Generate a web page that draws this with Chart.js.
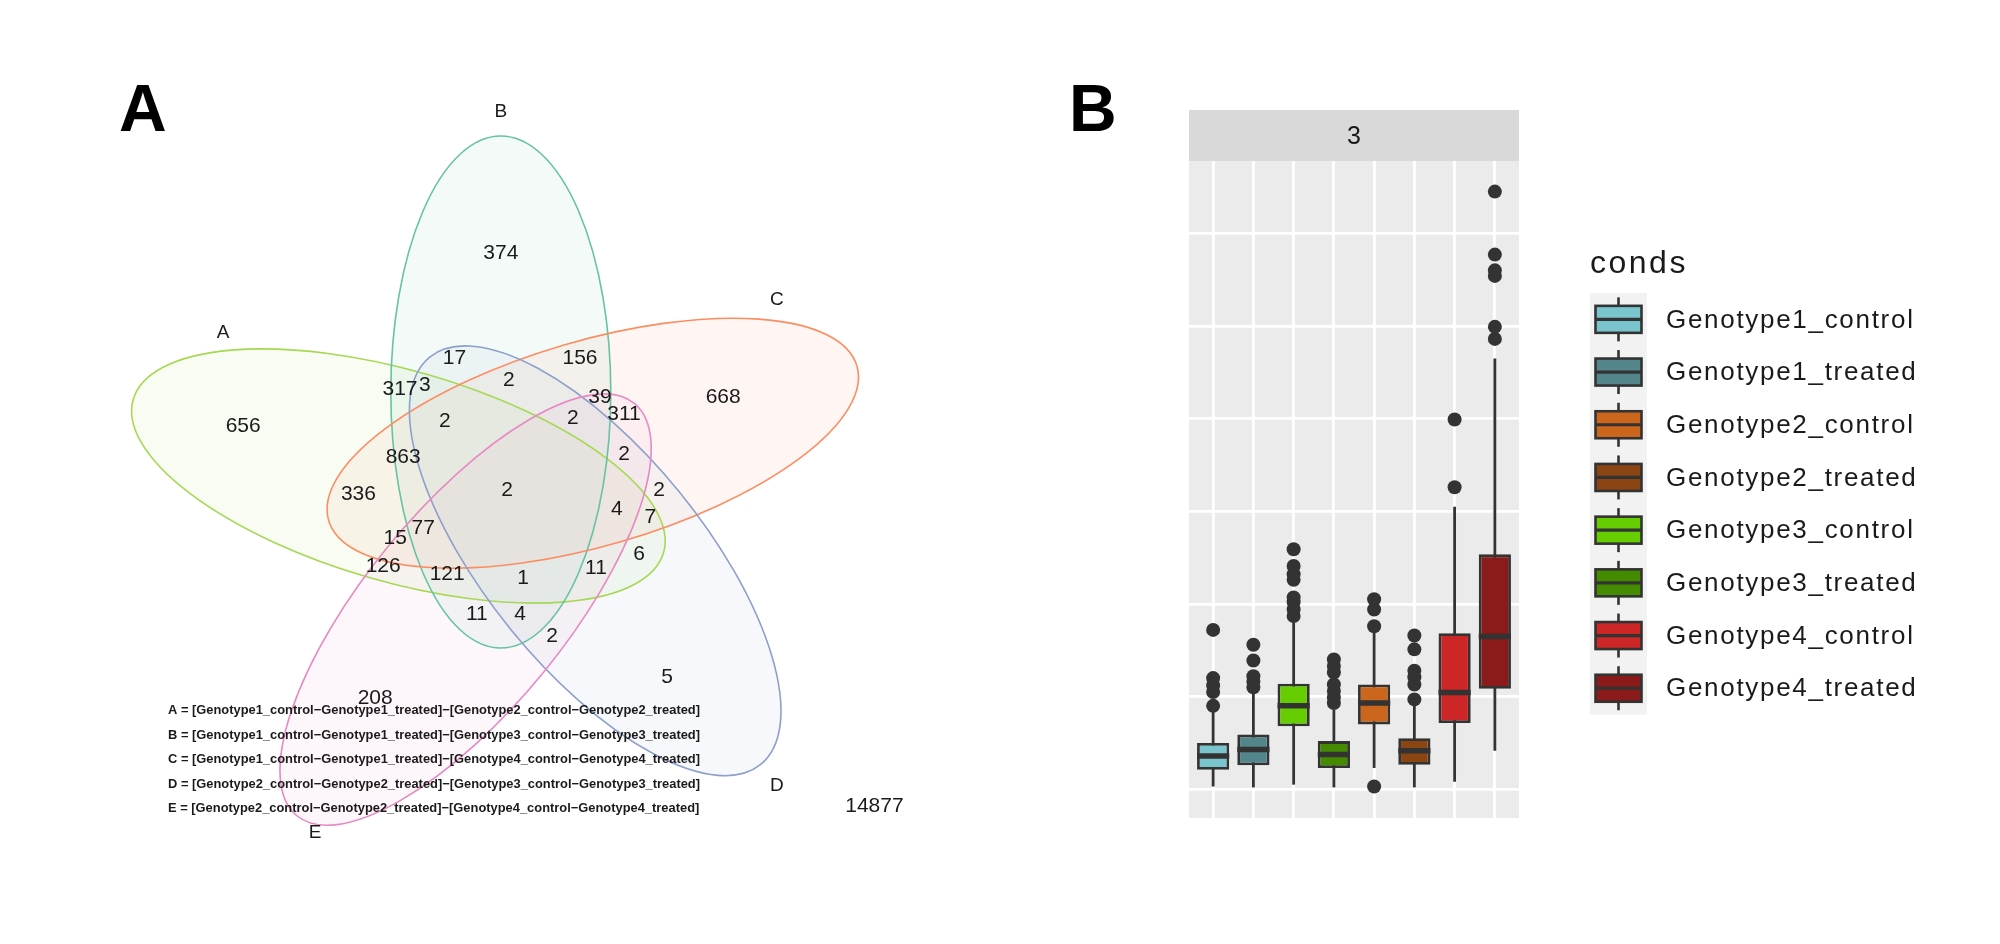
<!DOCTYPE html>
<html>
<head>
<meta charset="utf-8">
<script src="https://cdn.jsdelivr.net/npm/chart.js@4.4.1/dist/chart.umd.min.js"></script>
<style>
  html, body { margin: 0; padding: 0; background: #fff; }
  #wrap { position: relative; width: 2000px; height: 944px; }
  canvas { position: absolute; left: 0; top: 0; }
</style>
</head>
<body>
<div id="wrap">
  <canvas id="venn" width="2000" height="944"></canvas>
  <canvas id="box" width="2000" height="944"></canvas>
</div>
<script>
// ---------- panel A : five set venn ----------
const setNames = ["A", "B", "C", "D", "E"];
const setColors = ["#A6D854", "#66C2A5", "#FC8D62", "#8DA0CB", "#E78AC3"];

// region counts (31 regions + outside)
const regionCounts = [656, 374, 668, 5, 208, 17, 2, 156, 317, 3, 2, 39, 311, 2, 863, 2,
  2, 336, 2, 4, 7, 77, 15, 6, 126, 121, 1, 11, 11, 4, 2, 14877];

// where each count sits, in venn units (0..1)
const regionPos = [
  [0.179, 0.569], [0.501, 0.785], [0.779, 0.605], [0.709, 0.255], [0.344, 0.229],
  [0.443, 0.653], [0.511, 0.626], [0.600, 0.654], [0.375, 0.615], [0.406, 0.620],
  [0.431, 0.575], [0.625, 0.605], [0.655, 0.583], [0.591, 0.578], [0.379, 0.530],
  [0.655, 0.533], [0.509, 0.488], [0.323, 0.484], [0.699, 0.488], [0.646, 0.465],
  [0.688, 0.455], [0.404, 0.441], [0.369, 0.429], [0.674, 0.408], [0.354, 0.394],
  [0.434, 0.384], [0.529, 0.379], [0.620, 0.391], [0.471, 0.333], [0.525, 0.334],
  [0.565, 0.306], [0.968, 0.093]
];

// ellipse per set: cx, cy, semi major, semi minor, rotation (deg)
const setShapes = [
  [0.373, 0.505, 0.345, 0.132, -16.1],
  [0.501, 0.610, 0.320, 0.1375, 90],
  [0.616, 0.546, 0.344, 0.128, 16.3],
  [0.619, 0.399, 0.328, 0.136, -50.9],
  [0.457, 0.338, 0.333, 0.125, 50.7]
];
const setLabelPos = [[0.154, 0.684], [0.501, 0.960], [0.846, 0.725], [0.846, 0.118], [0.269, 0.059]];

const footnotes = [
  "A = [Genotype1_control\u2212Genotype1_treated]\u2212[Genotype2_control\u2212Genotype2_treated]",
  "B = [Genotype1_control\u2212Genotype1_treated]\u2212[Genotype3_control\u2212Genotype3_treated]",
  "C = [Genotype1_control\u2212Genotype1_treated]\u2212[Genotype4_control\u2212Genotype4_treated]",
  "D = [Genotype2_control\u2212Genotype2_treated]\u2212[Genotype3_control\u2212Genotype3_treated]",
  "E = [Genotype2_control\u2212Genotype2_treated]\u2212[Genotype4_control\u2212Genotype4_treated]"
];
const footnoteY = [0.2125, 0.1809, 0.1509, 0.12, 0.0896];

// ---------- panel B : boxplots ----------
const facetLabel = "3";
const conds = ["Genotype1_control", "Genotype1_treated", "Genotype3_control", "Genotype3_treated",
  "Genotype2_control", "Genotype2_treated", "Genotype4_control", "Genotype4_treated"];
const whiskLo = [0.03, 0.02, 0.05, 0.02, 0.23, 0.02, 0.08, 0.415];
const q1 = [0.21, 0.26, 0.68, 0.23, 0.70, 0.265, 0.715, 1.085];
const med = [0.36, 0.43, 0.90, 0.375, 0.93, 0.415, 1.045, 1.65];
const q3 = [0.50, 0.59, 1.14, 0.52, 1.13, 0.55, 1.685, 2.535];
const whiskHi = [0.84, 1.03, 1.80, 0.86, 1.70, 0.90, 3.05, 4.65];
const outliers = [
  [0.90, 1.05, 1.12, 1.20, 1.72],
  [1.10, 1.16, 1.22, 1.39, 1.56],
  [1.87, 1.94, 2.02, 2.07, 2.26, 2.32, 2.41, 2.59],
  [0.93, 0.99, 1.06, 1.13, 1.26, 1.33, 1.40],
  [0.03, 1.76, 1.94, 2.05],
  [0.97, 1.13, 1.21, 1.28, 1.51, 1.66],
  [3.26, 3.99],
  [4.86, 4.99, 5.54, 5.60, 5.77, 6.45]
];
const legendLabels = ["Genotype1_control", "Genotype1_treated", "Genotype2_control", "Genotype2_treated",
  "Genotype3_control", "Genotype3_treated", "Genotype4_control", "Genotype4_treated"];
const condColors = {
  Genotype1_control: "#7AC5CD", Genotype1_treated: "#53868B",
  Genotype2_control: "#CD661D", Genotype2_treated: "#8B4513",
  Genotype3_control: "#66CD00", Genotype3_treated: "#458B00",
  Genotype4_control: "#CD2626", Genotype4_treated: "#8B1A1A"
};

const FONT = "'Liberation Sans', Arial, sans-serif";
const INK = "#333333";

function rgba(hex, a) {
  const n = parseInt(hex.slice(1), 16);
  return "rgba(" + (n >> 16) + "," + ((n >> 8) & 255) + "," + (n & 255) + "," + a + ")";
}

// draws the ellipses, counts, set names and the footnote
const vennPlugin = {
  id: "vennDraw",
  beforeDatasetsDraw(chart) {
    const { ctx, scales: { x, y } } = chart;
    const ux = x.getPixelForValue(1) - x.getPixelForValue(0);
    const uy = y.getPixelForValue(0) - y.getPixelForValue(1);
    const path = (s) => {
      ctx.translate(x.getPixelForValue(s[0]), y.getPixelForValue(s[1]));
      ctx.rotate(-s[4] * Math.PI / 180);
      ctx.beginPath();
      ctx.ellipse(0, 0, s[2] * ux, s[3] * uy, 0, 0, 2 * Math.PI);
    };
    setShapes.forEach((s, i) => {
      ctx.save(); path(s);
      ctx.fillStyle = rgba(setColors[i], 0.08);
      ctx.fill();
      ctx.restore();
    });
    setShapes.forEach((s, i) => {
      ctx.save(); path(s);
      ctx.strokeStyle = setColors[i];
      ctx.lineWidth = 1.6;
      ctx.stroke();
      ctx.restore();
    });
  },
  afterDatasetsDraw(chart) {
    const { ctx, scales: { x, y } } = chart;
    ctx.save();
    ctx.fillStyle = "#1a1a1a";
    ctx.textAlign = "center";
    ctx.textBaseline = "middle";
    ctx.font = "21px " + FONT;
    chart.getDatasetMeta(0).data.forEach((pt, i) => {
      ctx.fillText(String(regionCounts[i]), pt.x, pt.y + 1);
    });
    ctx.font = "19px " + FONT;
    setNames.forEach((n, i) => {
      ctx.fillText(n, x.getPixelForValue(setLabelPos[i][0]), y.getPixelForValue(setLabelPos[i][1]));
    });

    // footnote, squeezed to the width seen in the figure
    ctx.font = "bold 13px 'Liberation Sans Narrow', " + FONT;
    ctx.textAlign = "left";
    const want = x.getPixelForValue(0.75) - x.getPixelForValue(0.085);
    const sx = want / ctx.measureText(footnotes[0]).width;
    footnotes.forEach((t, i) => {
      ctx.save();
      ctx.translate(x.getPixelForValue(0.085), y.getPixelForValue(footnoteY[i]));
      ctx.scale(sx, 1);
      ctx.fillText(t, 0, 0);
      ctx.restore();
    });

    ctx.font = "bold 66px " + FONT;
    ctx.textBaseline = "alphabetic";
    ctx.fillStyle = "#000";
    ctx.fillText("A", 119, 131);
    ctx.restore();
  }
};

new Chart(document.getElementById("venn"), {
  type: "scatter",
  data: {
    datasets: [{
      data: regionPos.map((p) => ({ x: p[0], y: p[1] })),
      pointRadius: 0,
      pointHoverRadius: 0
    }]
  },
  options: {
    responsive: false,
    animation: false,
    devicePixelRatio: 1,
    events: [],
    layout: { padding: { left: 100, right: 1100, top: 80, bottom: 64 } },
    scales: {
      x: { display: false, min: 0, max: 1 },
      y: { display: false, min: 0, max: 1 }
    },
    plugins: { legend: { display: false }, tooltip: { enabled: false } }
  },
  plugins: [vennPlugin]
});

// panel background, strip, whiskers, medians and the legend
const boxPlugin = {
  id: "boxDraw",
  beforeDraw(chart) {
    const { ctx, chartArea: a } = chart;
    ctx.save();
    ctx.fillStyle = "#EBEBEB";
    ctx.fillRect(a.left, a.top, a.right - a.left, a.bottom - a.top);
    ctx.fillStyle = "#D9D9D9";
    ctx.fillRect(a.left, a.top - 51, a.right - a.left, 51);
    ctx.fillStyle = "#1A1A1A";
    ctx.font = "25px " + FONT;
    ctx.textAlign = "center";
    ctx.textBaseline = "middle";
    ctx.fillText(facetLabel, (a.left + a.right) / 2, a.top - 24);
    ctx.font = "bold 66px " + FONT;
    ctx.textAlign = "left";
    ctx.textBaseline = "alphabetic";
    ctx.fillStyle = "#000";
    ctx.fillText("B", 1069, 131);
    ctx.restore();
  },
  beforeDatasetsDraw(chart) {
    const { ctx, scales: { x, y } } = chart;
    ctx.save();
    ctx.strokeStyle = INK;
    ctx.lineWidth = 2.8;
    conds.forEach((c, i) => {
      const px = x.getPixelForValue(i);
      ctx.beginPath();
      ctx.moveTo(px, y.getPixelForValue(whiskLo[i]));
      ctx.lineTo(px, y.getPixelForValue(whiskHi[i]));
      ctx.stroke();
    });
    ctx.restore();
  },
  afterDatasetsDraw(chart) {
    const { ctx, scales: { y } } = chart;
    const bars = chart.getDatasetMeta(0).data;
    ctx.save();
    ctx.strokeStyle = INK;
    ctx.lineWidth = 5.5;
    bars.forEach((b, i) => {
      const py = y.getPixelForValue(med[i]);
      ctx.beginPath();
      ctx.moveTo(b.x - b.width / 2, py);
      ctx.lineTo(b.x + b.width / 2, py);
      ctx.stroke();
    });
    ctx.restore();
  },
  afterDraw(chart) {
    const { ctx, chartArea: a } = chart;
    const left = a.right + 71;
    const keyTop = a.top + 132;
    const keyH = 52.7;
    ctx.save();
    ctx.fillStyle = "#1A1A1A";
    ctx.font = "32px " + FONT;
    ctx.letterSpacing = "2.5px";
    ctx.textBaseline = "alphabetic";
    ctx.fillText("conds", left, a.top + 112);
    ctx.fillStyle = "#F2F2F2";
    ctx.fillRect(left, keyTop, 57, keyH * legendLabels.length);
    ctx.font = "26px " + FONT;
    ctx.letterSpacing = "1.7px";
    ctx.textBaseline = "middle";
    legendLabels.forEach((lab, k) => {
      const cy = keyTop + keyH * (k + 0.5);
      const cx = left + 28.5;
      ctx.strokeStyle = INK;
      ctx.lineWidth = 2.6;
      ctx.beginPath();
      ctx.moveTo(cx, cy - 22);
      ctx.lineTo(cx, cy + 22);
      ctx.stroke();
      ctx.fillStyle = condColors[lab];
      ctx.fillRect(cx - 23, cy - 13.5, 46, 27);
      ctx.strokeRect(cx - 23, cy - 13.5, 46, 27);
      ctx.lineWidth = 3.2;
      ctx.beginPath();
      ctx.moveTo(cx - 23, cy);
      ctx.lineTo(cx + 23, cy);
      ctx.stroke();
      ctx.fillStyle = "#1A1A1A";
      ctx.fillText(lab, left + 76, cy + 1);
    });
    ctx.restore();
  }
};

const gridLine = { color: "#FFFFFF", lineWidth: 2.8, drawTicks: false, offset: false };

new Chart(document.getElementById("box"), {
  type: "bar",
  data: {
    datasets: [
      {
        type: "bar",
        data: conds.map((c, i) => ({ x: i, y: [q1[i], q3[i]] })),
        backgroundColor: conds.map((c) => condColors[c]),
        borderColor: INK,
        borderWidth: 2.8,
        borderSkipped: false,
        barPercentage: 0.8,
        categoryPercentage: 1,
        order: 2
      },
      {
        type: "scatter",
        data: outliers.flatMap((vals, i) => vals.map((v) => ({ x: i, y: v }))),
        pointRadius: 7,
        pointHoverRadius: 7,
        backgroundColor: INK,
        borderWidth: 0,
        order: 1
      }
    ]
  },
  options: {
    responsive: false,
    animation: false,
    devicePixelRatio: 1,
    events: [],
    layout: { padding: { left: 1189, right: 481, top: 161, bottom: 126 } },
    scales: {
      x: {
        type: "linear", min: -0.6, max: 7.6, offset: false,
        ticks: { display: false, stepSize: 1, includeBounds: false },
        grid: gridLine,
        border: { display: false }
      },
      y: {
        type: "linear", min: -0.31, max: 6.78,
        ticks: { display: false, stepSize: 1, includeBounds: false },
        grid: gridLine,
        border: { display: false }
      }
    },
    plugins: { legend: { display: false }, tooltip: { enabled: false } }
  },
  plugins: [boxPlugin]
});
</script>
</body>
</html>
